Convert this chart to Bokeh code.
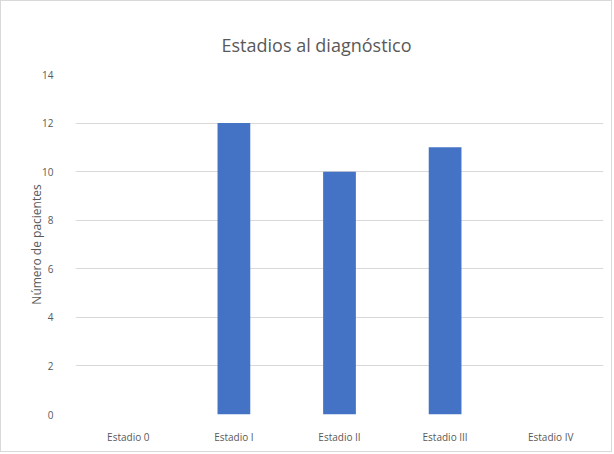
from bokeh.plotting import figure
from bokeh.models import ColumnDataSource, FixedTicker
from bokeh.embed import file_html
from bokeh.resources import INLINE

categories = ["Estadio 0", "Estadio I", "Estadio II", "Estadio III", "Estadio IV"]
pacientes = [0, 12, 10, 11, 0]
y_ticks = [0, 2, 4, 6, 8, 10, 12, 14]
title_text = "Estadios al diagnóstico"

source = ColumnDataSource(data=dict(cat=categories, val=pacientes))

p = figure(x_range=categories, y_range=(0, 14), width=612, height=452,
           output_backend="svg", toolbar_location=None,
           min_border_left=74, min_border_right=10, min_border_top=73, min_border_bottom=39,
           styles={"border": "1px solid #d9d9d9"})

p.vbar(x="cat", top="val", width=0.31, source=source, fill_color="#4472C4", line_color=None)

p.title.text = title_text
p.title.align = "left"
p.title.offset = 146
p.title.standoff = 36
p.title.text_font = "Open Sans"
p.title.text_font_size = "18px"
p.title.text_font_style = "normal"
p.title.text_color = "#595959"

p.outline_line_color = None
p.xgrid.grid_line_color = None
p.ygrid.grid_line_color = "#d9d9d9"
p.yaxis.ticker = FixedTicker(ticks=y_ticks)

for ax in (p.xaxis, p.yaxis):
    ax.axis_line_color = None
    ax.major_tick_line_color = None
    ax.minor_tick_line_color = None
    ax.major_label_text_font = "Open Sans"
    ax.major_label_text_font_size = "10px"
    ax.major_label_text_color = "#595959"

p.yaxis.axis_label = "Número de pacientes"
p.yaxis.axis_label_text_font = "Open Sans"
p.yaxis.axis_label_text_font_size = "12px"
p.yaxis.axis_label_text_font_style = "normal"
p.yaxis.axis_label_text_color = "#595959"
p.yaxis.axis_label_standoff = -6
p.yaxis.major_label_standoff = 16
p.xaxis.major_label_standoff = 9

open("out.html", "w").write(file_html(p, INLINE))
